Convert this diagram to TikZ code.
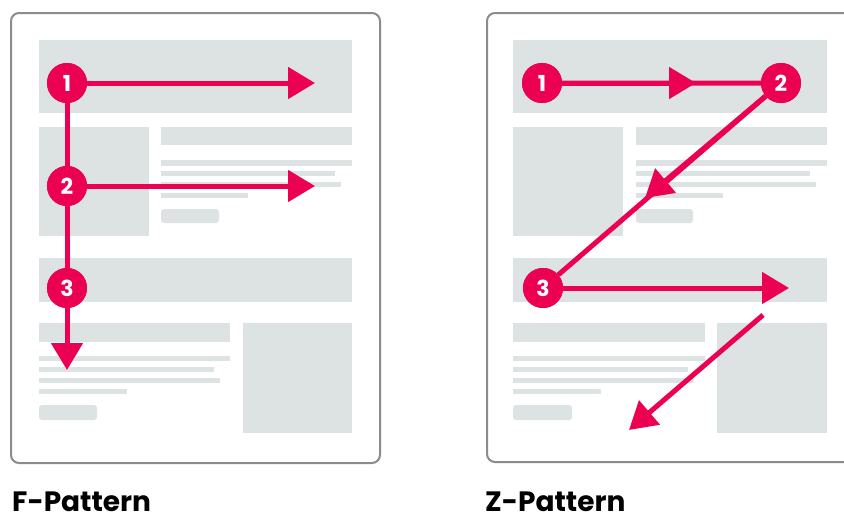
\documentclass[tikz,border=0pt]{standalone}
\usepackage{fontspec}
\setmainfont{Poppins}
\usetikzlibrary{arrows.meta,calc}
\definecolor{hot}{RGB}{236,0,82}
\definecolor{block}{RGB}{221,226,226}
\definecolor{frame}{RGB}{140,140,140}
\tikzset{
  panel/.style={draw=frame,line width=2pt,fill=white,rounded corners=8pt},
  blk/.style={fill=block},
  btn/.style={fill=block,rounded corners=3pt},
  num/.style={circle,fill=hot,text=white,minimum size=40pt,inner sep=0pt,font=\fontsize{22}{22}\selectfont\bfseries},
  path/.style={draw=hot,line width=5pt},
  arr/.style={draw=hot,line width=5pt,-{Triangle[length=27pt,width=31pt]}},
  title/.style={anchor=base west,inner sep=0pt,font=\fontsize{28}{28}\selectfont\bfseries}
}
\begin{document}
\begin{tikzpicture}[x=1pt,y=-1pt]
\clip (0,0) rectangle (844,522);
\fill[white] (0,0) rectangle (844,522);
% ---------- F panel ----------
\draw[panel] (11,13) rectangle (380,463);
\fill[blk] (39,40) rectangle (352,113);
\fill[blk] (39,127) rectangle (149,236);
\fill[blk] (161,127) rectangle (352,145);
\fill[blk] (161,160) rectangle (352,166);
\fill[blk] (161,171) rectangle (335,176);
\fill[blk] (161,182) rectangle (341,187);
\fill[blk] (161,193) rectangle (248,198);
\fill[btn] (161,209) rectangle (219,223);
\fill[blk] (39,258) rectangle (352,302);
\fill[blk] (39,323) rectangle (230,342);
\fill[blk] (39,356) rectangle (230,361);
\fill[blk] (39,367) rectangle (214,372);
\fill[blk] (39,378) rectangle (220,383);
\fill[blk] (39,389) rectangle (127,394);
\fill[btn] (39,405) rectangle (97,420);
\fill[blk] (243,323) rectangle (352,433);
\node[num] (f1) at (67,83) {1};
\node[num] (f2) at (67,186) {2};
\node[num] (f3) at (67,288) {3};
\coordinate (f1e) at (315,83);
\coordinate (f2e) at (315,186);
\coordinate (f3e) at (67,370);
\path[path] (f1) -- (f2) -- (f3);
\path[arr] (f1) -- (f1e);
\path[arr] (f2) -- (f2e);
\path[arr] (f3) -- (f3e);
\node[num] at (f1) {1};
\node[num] at (f2) {2};
\node[num] at (f3) {3};
\node[title] (ft) at (12,511) {F-Pattern};
% ---------- Z panel ----------
\draw[panel] (487,13) rectangle (870,462);
\fill[blk] (513,40) rectangle (827,113);
\fill[blk] (513,127) rectangle (623,236);
\fill[blk] (636,127) rectangle (827,145);
\fill[blk] (636,160) rectangle (827,166);
\fill[blk] (636,171) rectangle (810,176);
\fill[blk] (636,182) rectangle (816,187);
\fill[blk] (636,193) rectangle (723,198);
\fill[btn] (636,209) rectangle (693,223);
\fill[blk] (513,258) rectangle (827,302);
\fill[blk] (513,323) rectangle (705,342);
\fill[blk] (513,356) rectangle (705,361);
\fill[blk] (513,367) rectangle (688,372);
\fill[blk] (513,378) rectangle (694,383);
\fill[blk] (513,389) rectangle (601,394);
\fill[btn] (513,405) rectangle (572,420);
\fill[blk] (717,323) rectangle (827,433);
\node[num] (z1) at (542,83) {1};
\node[num] (z2) at (781,83) {2};
\node[num] (z3) at (543,288) {3};
\coordinate (z1m) at (696,83);
\coordinate (z2m) at (645,198);
\coordinate (z3e) at (789,288);
\coordinate (z4s) at (763,315);
\coordinate (z4e) at (629,430);
\path[path] (z1) -- (z2) -- (z3);
\path[arr] (z1) -- (z1m);
\path[arr] (z2) -- (z2m);
\path[arr] (z3) -- (z3e);
\path[arr] (z4s) -- (z4e);
\node[num] at (z1) {1};
\node[num] at (z2) {2};
\node[num] at (z3) {3};
\node[title] (zt) at (485,511) {Z-Pattern};
\end{tikzpicture}
\end{document}
